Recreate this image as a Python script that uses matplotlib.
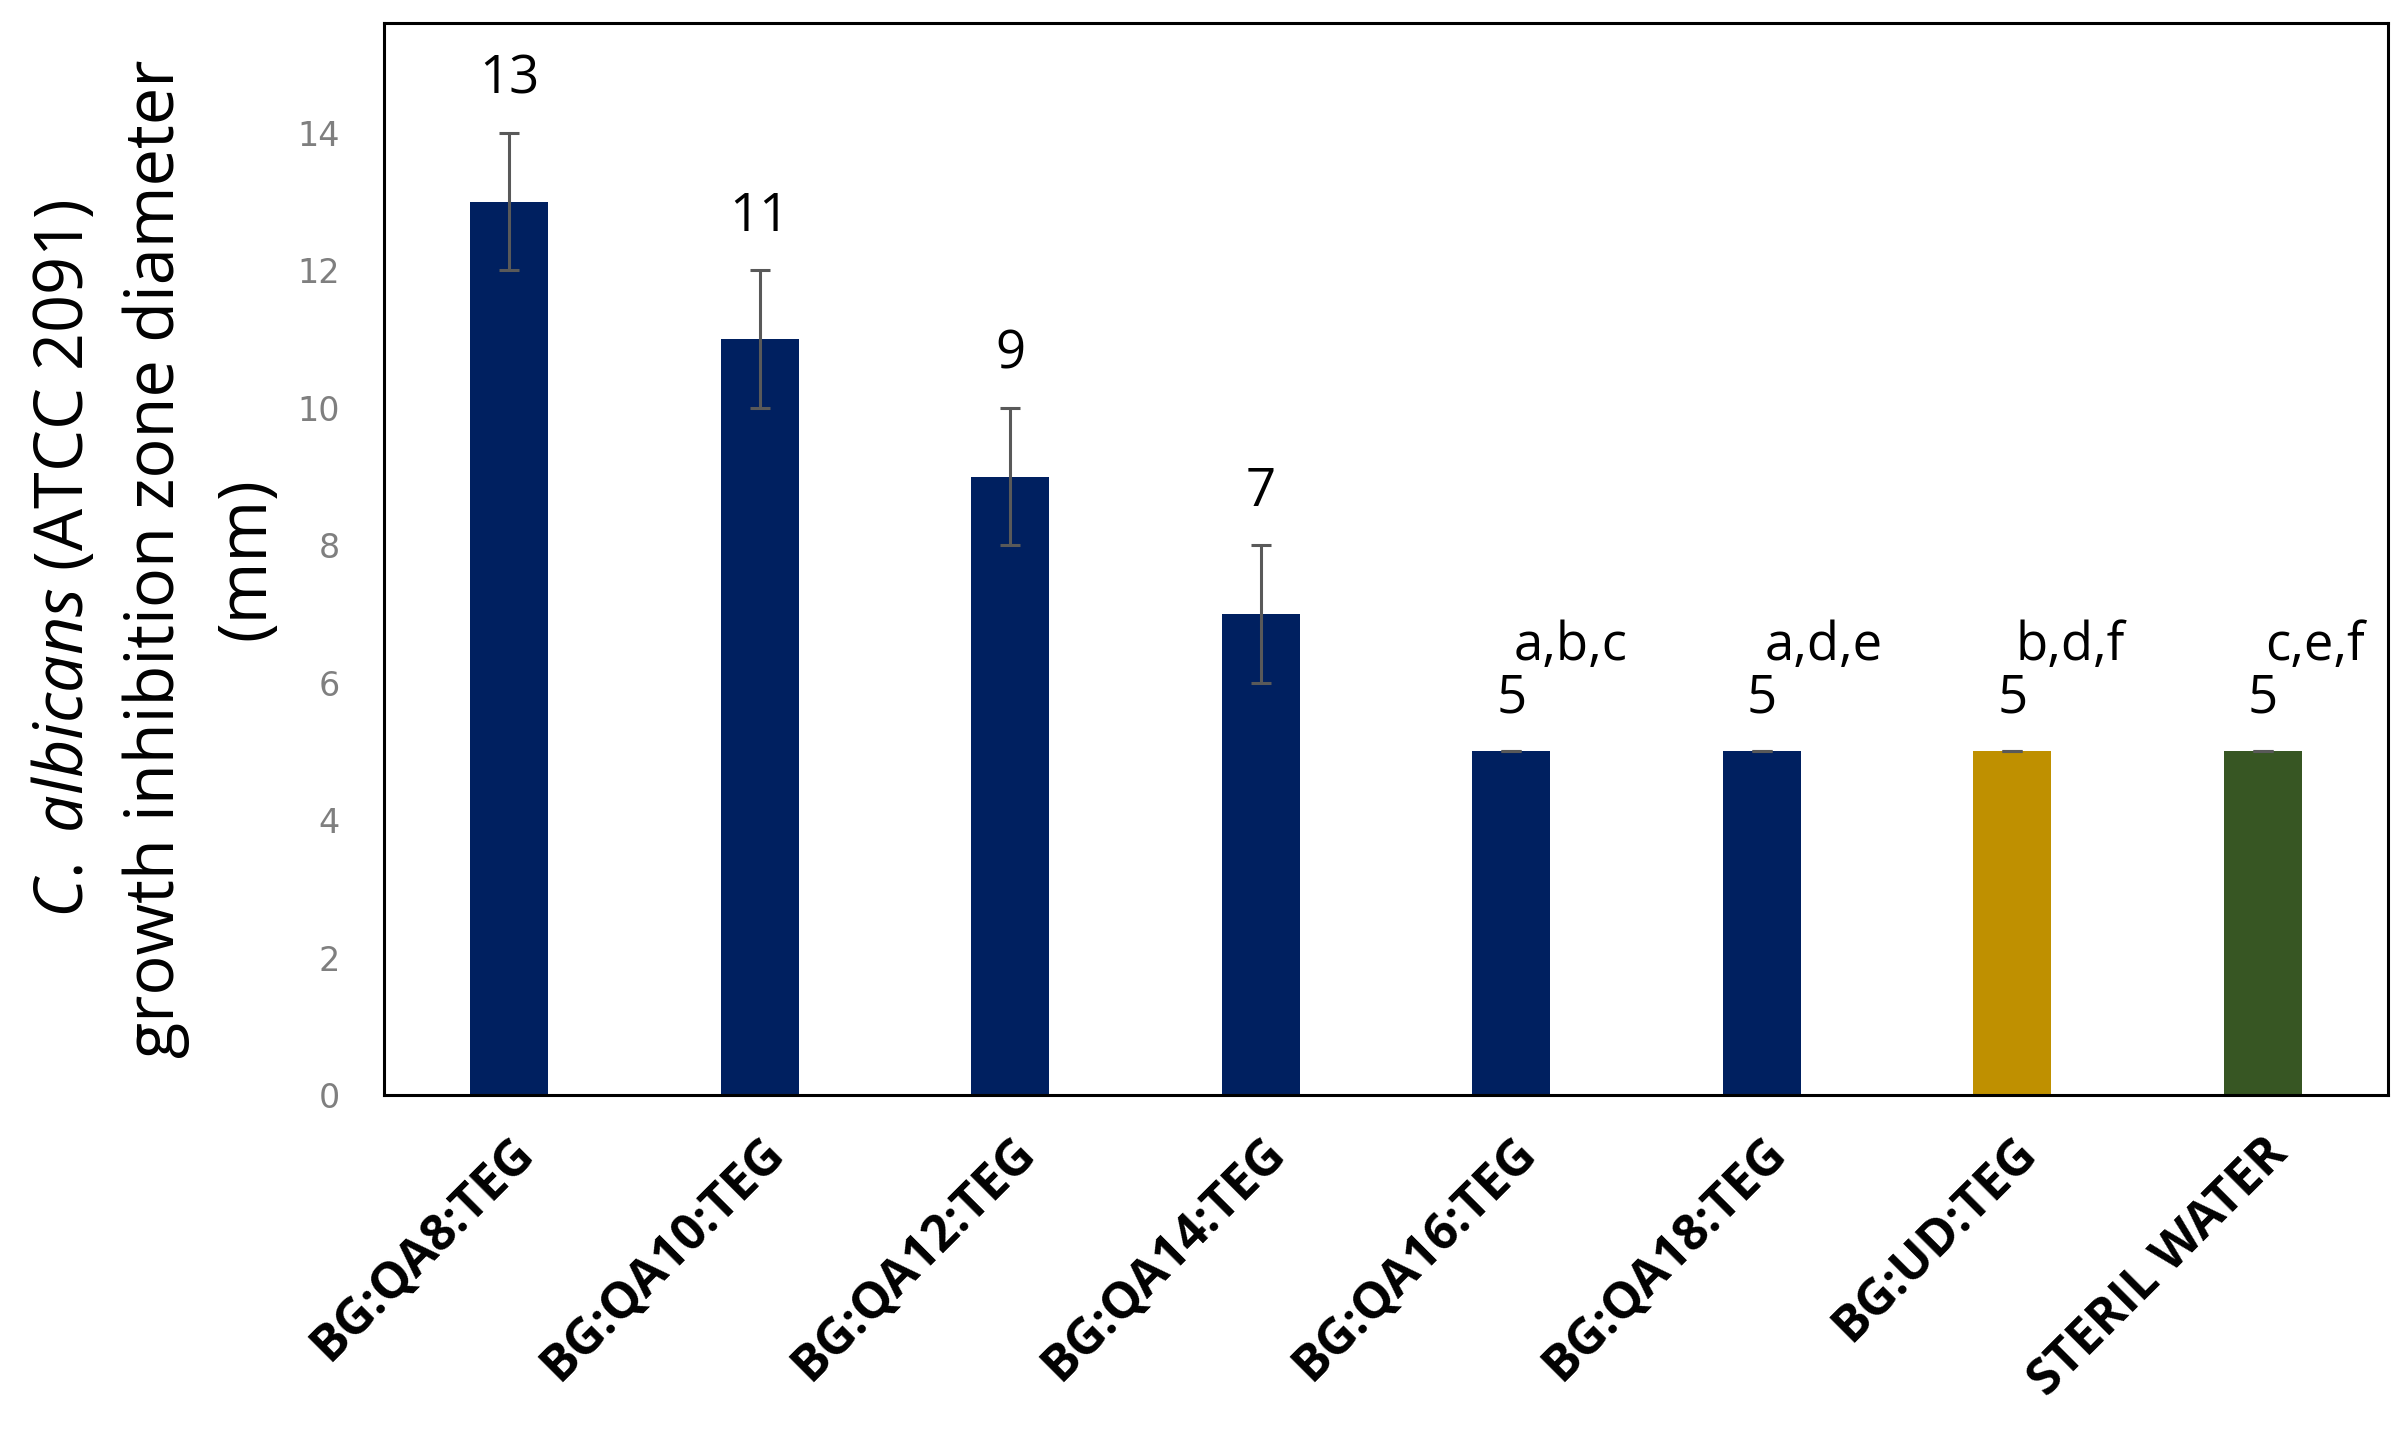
import matplotlib
matplotlib.use("Agg")
import matplotlib.pyplot as plt
from matplotlib import font_manager as fm

# data
categories = ["BG:QA8:TEG", "BG:QA10:TEG", "BG:QA12:TEG", "BG:QA14:TEG",
              "BG:QA16:TEG", "BG:QA18:TEG", "BG:UD:TEG", "STERIL WATER"]
values = [13, 11, 9, 7, 5, 5, 5, 5]
errors = [1, 1, 1, 1, 0, 0, 0, 0]
sup_letters = ["", "", "", "", "a,b,c", "a,d,e", "b,d,f", "c,e,f"]
colors = ["#002060"] * 6 + ["#BF9000", "#375623"]
y_ticks = [0, 2, 4, 6, 8, 10, 12, 14]


def pick_font(names, default="DejaVu Sans"):
    for n in names:
        try:
            fm.findfont(n, fallback_to_default=False)
            return n
        except Exception:
            pass
    return default


narrow = pick_font(["Liberation Sans Narrow", "Open Sans", "Lato"])

plt.rcParams["mathtext.fontset"] = "custom"
plt.rcParams["mathtext.it"] = narrow + ":italic"
plt.rcParams["mathtext.rm"] = narrow

fig = plt.figure(figsize=(12.04, 7.15), dpi=200)
ax = fig.add_axes([0.1595, 0.2343, 0.8322, 0.7496])

x = list(range(len(categories)))
ax.bar(x, values, width=0.31, color=colors, zorder=2)
ax.errorbar(x, values, yerr=errors, fmt="none", ecolor="#595959",
            elinewidth=1.1, capsize=3.6, capthick=1.1, zorder=3)

# value labels and significance letters
for xi, v, e, s in zip(x, values, errors, sup_letters):
    ax.annotate(str(v), (xi, v + e), xytext=(0, 19), textcoords="offset points",
                ha="center", va="center", fontsize=19, family=narrow)
    if s:
        ax.annotate(s, (xi, v + e), xytext=(1, 38), textcoords="offset points",
                    ha="left", va="center", fontsize=19, family=narrow)

ax.set_xlim(-0.5, len(categories) - 0.5)
ax.set_ylim(0, 15.6)
ax.set_yticks(y_ticks)
ax.tick_params(axis="y", length=0, pad=16, labelsize=12, labelcolor="#7f7f7f")
ax.tick_params(axis="x", length=0, pad=12)
ax.set_xticks(x)
ax.set_xticklabels(categories, rotation=45, ha="right", rotation_mode="anchor",
                   fontsize=18, fontweight="bold", family=narrow)

for sp in ax.spines.values():
    sp.set_linewidth(1.1)
    sp.set_color("black")

ax.set_ylabel("$\\it{C.}$ $\\it{albicans}$ (ATCC 2091)\ngrowth inhibition zone diameter\n(mm)",
              fontsize=24, family=narrow, linespacing=1.45, labelpad=6)

fig.savefig("out.png", dpi=200)
